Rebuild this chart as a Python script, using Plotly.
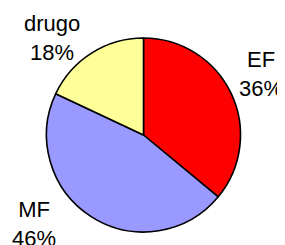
import plotly.graph_objects as go

labels = ["EF", "MF", "drugo"]
values = [36, 46, 18]
colors = ["#FF0000", "#9999FF", "#FFFF99"]

OFF = 8  # page body margin
W, H = 285 - OFF, 245 - OFF
# pie placement in window pixels: centre and radius
cx, cy, r = 143.5 - OFF, 135 - OFF, 97

fig = go.Figure(go.Pie(
    labels=labels,
    values=values,
    sort=False,
    direction="clockwise",
    rotation=0,
    marker=dict(colors=colors, line=dict(color="black", width=1.6)),
    textinfo="none",
    hoverinfo="none",
    showlegend=False,
    domain=dict(x=[(cx - r) / W, (cx + r) / W],
                y=[(H - cy - r) / H, (H - cy + r) / H]),
))

# label positions (window pixel centres)
label_pos = {"EF": (260.5, 74), "MF": (34, 224), "drugo": (52, 37.5)}
annotations = []
for lab, val in zip(labels, values):
    px, py = label_pos[lab]
    px, py = px - OFF, py - OFF
    annotations.append(dict(
        x=px / W, y=(H - py) / H, xref="paper", yref="paper",
        text=f"{lab}<br>{val}%", showarrow=False,
        xanchor="center", yanchor="middle", align="center",
        font=dict(family="Liberation Sans, Arial, sans-serif", size=22, color="black"),
    ))

fig.update_layout(
    width=W, height=H,
    margin=dict(l=0, r=0, t=0, b=0),
    paper_bgcolor="white", plot_bgcolor="white",
    annotations=annotations,
)

fig.write_html("out.html")
